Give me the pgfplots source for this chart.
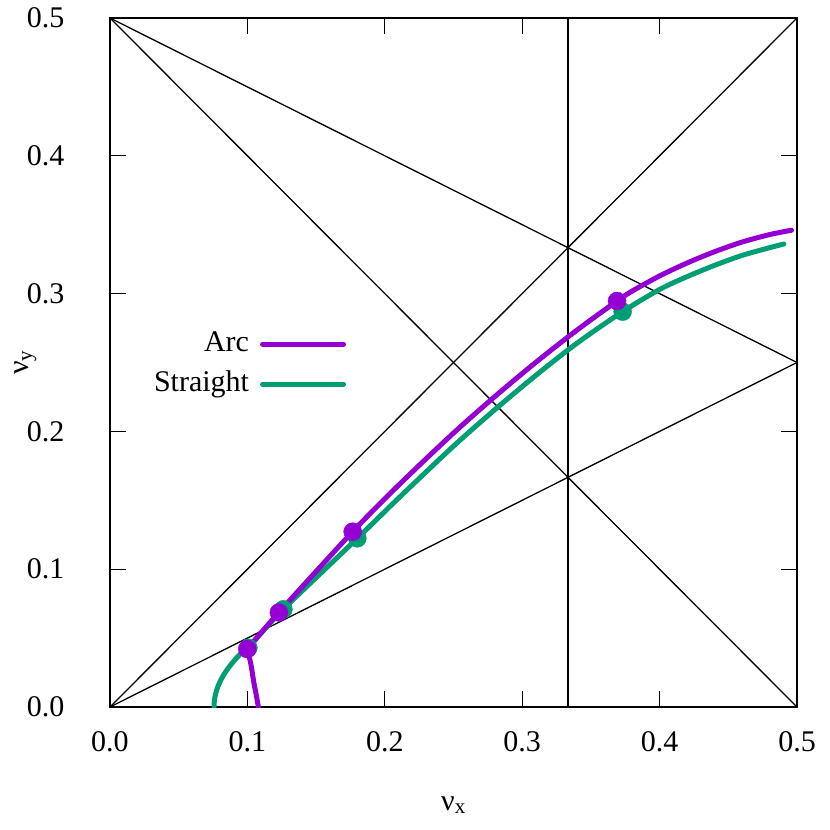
\documentclass[border=0pt]{standalone}
\usepackage{fontspec}
\setmainfont{Liberation Serif}
\usepackage{pgfplots}
\pgfplotsset{compat=1.18}
\definecolor{arcc}{HTML}{9400D3}
\definecolor{strc}{HTML}{009E73}
\begin{document}
\begin{tikzpicture}[font=\fontsize{30bp}{36bp}\selectfont]
\path[use as bounding box] (-110bp,-123bp) rectangle (720bp,707bp);
\begin{axis}[
  at={(0,0)}, anchor=south west,
  scale only axis, width=687bp, height=689bp,
  xmin=0, xmax=0.5, ymin=0, ymax=0.5,
  xtick={0,0.1,0.2,0.3,0.4,0.5}, ytick={0,0.1,0.2,0.3,0.4,0.5},
  /pgf/number format/.cd, fixed, fixed zerofill, precision=1, assume math mode=true, /pgfplots/.cd,
  tick align=inside, major tick length=16bp,
  every tick/.style={black, line width=1.2bp},
  axis line style={line width=1.6bp},
  yticklabel style={xshift=-42bp},
  xticklabel style={yshift=-21bp},
  xlabel={ν\textsubscript{x}}, ylabel={ν\textsubscript{y}},
  xlabel style={at={(axis description cs:0.5,-0.1422)}, anchor=center},
  ylabel style={at={(axis description cs:-0.123,0.5)}, anchor=center, rotate=0},
  legend plot pos=right,
  legend cell align=right,
  legend image code/.code={\draw[#1] (0bp,0bp) -- (81bp,0bp);},
  legend style={draw=none, fill=none, inner sep=0pt, outer sep=0pt,
    at={(axis description cs:0.3436,0.5500)}, anchor=north east,
    row sep=8bp, column sep=9bp,
    nodes={inner sep=2bp, text height=21bp, text depth=7bp}},
]
\addlegendimage{arcc, line width=5bp, line cap=round}
\addlegendentry{Arc}
\addlegendimage{strc, line width=5bp, line cap=round}
\addlegendentry{Straight}

% reference lines
\addplot[black, line width=1.3bp, forget plot] coordinates {(0,0) (0.5,0.5)};
\addplot[black, line width=1.3bp, forget plot] coordinates {(0,0.5) (0.5,0)};
\addplot[black, line width=1.3bp, forget plot] coordinates {(0,0) (0.5,0.25)};
\addplot[black, line width=1.3bp, forget plot] coordinates {(0,0.5) (0.5,0.25)};
\addplot[black, line width=1.3bp, forget plot] coordinates {(0.33333,0) (0.33333,0.5)};

% Straight
\addplot[strc, line width=5bp, line cap=round, line join=round, smooth, forget plot] coordinates {
  (0.0757,0.000) (0.0760,0.005) (0.0770,0.010) (0.0786,0.015) (0.0809,0.020)
  (0.0838,0.025) (0.0874,0.030) (0.0916,0.035) (0.0965,0.040) (0.1007,0.0430)
};
\addplot[strc, line width=5bp, line cap=round, line join=round, smooth, forget plot] coordinates {
  (0.1007,0.0430) (0.1262,0.0709) (0.1800,0.1224) (0.2111,0.1526) (0.2500,0.1893)
  (0.2800,0.2157) (0.3100,0.2407) (0.3400,0.2641) (0.3731,0.2869) (0.4000,0.3030)
  (0.4200,0.3123) (0.4400,0.3205) (0.4600,0.3277) (0.4800,0.3333) (0.4905,0.3360)
};
\addplot[only marks, mark=*, mark size=9bp, color=strc, forget plot] coordinates {
  (0.1007,0.0430) (0.1262,0.0709) (0.1800,0.1224) (0.3731,0.2869)
};

% Arc
\addplot[arcc, line width=5bp, line cap=round, line join=round, smooth, forget plot] coordinates {
  (0.1080,0.000) (0.1064,0.0090) (0.1048,0.0172) (0.1024,0.0317) (0.0999,0.0421)
};
\addplot[arcc, line width=5bp, line cap=round, line join=round, smooth, forget plot] coordinates {
  (0.0999,0.0421) (0.1229,0.0686) (0.1766,0.1272) (0.2111,0.1620) (0.2500,0.1988)
  (0.2800,0.2252) (0.3100,0.2502) (0.3400,0.2736) (0.3690,0.2946) (0.3800,0.3018)
  (0.4000,0.3128) (0.4200,0.3222) (0.4400,0.3304) (0.4600,0.3374) (0.4800,0.3428)
  (0.4960,0.3460)
};
\addplot[only marks, mark=*, mark size=9bp, color=arcc, forget plot] coordinates {
  (0.0999,0.0421) (0.1229,0.0686) (0.1766,0.1272) (0.3690,0.2946)
};
\end{axis}
\end{tikzpicture}
\end{document}
